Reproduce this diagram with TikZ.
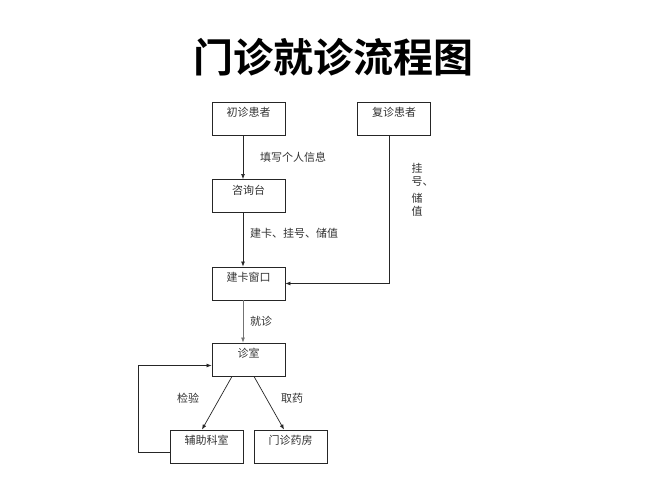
\documentclass[tikz,border=0pt]{standalone}
\usepackage{fontspec}
\setmainfont{Noto Sans CJK SC}
\newfontfamily\cjkbold{Noto Sans CJK SC Bold}
\usetikzlibrary{arrows.meta}

\begin{document}
\begin{tikzpicture}[
    x=1pt,y=-1pt,
    >={Latex[length=5pt,width=4pt]},
    every node/.style={font=\fontsize{11}{13}\selectfont,text=black!80},
    stage/.style={draw=black!85,line width=0.9pt,minimum width=73pt,
      text height=12pt,text depth=16pt,inner ysep=2.5pt,inner xsep=2pt},
    flow/.style={->,draw=black!85,line width=0.7pt},
    soft/.style={->,draw=black!55,line width=0.7pt},
    lab/.style={anchor=west,inner sep=1pt}
]
\useasboundingbox[fill=white] (0,0) rectangle (667,500);

% title
\node[font=\cjkbold\fontsize{40}{42}\selectfont,text=black] (title) at (333,57) {门诊就诊流程图};

% stages
\node[stage] (first)  at (248.5,118.5) {初诊患者};
\node[stage] (repeat) at (394,118.5)   {复诊患者};
\node[stage] (desk)   at (248.5,196)   {咨询台};
\node[stage] (card)   at (248.5,283.5) {建卡窗口};
\node[stage] (room)   at (248.5,359.5) {诊室};
\node[stage] (lab)    at (206.5,446.5) {辅助科室};
\node[stage] (pharm)  at (290.5,446.5) {门诊药房};

% main line
\draw[flow] ([xshift=-5.5pt]first.south) -- ([xshift=-5.5pt]desk.north);
\node[lab] (l1) at (259,157) {填写个人信息};
\draw[flow] ([xshift=-5.5pt]desk.south) -- ([xshift=-5.5pt]card.north);
\node[lab] (l2) at (249,233) {建卡、挂号、储值};
\draw[soft] ([xshift=-5.5pt]card.south) -- ([xshift=-5.5pt]room.north);
\node[lab] (l3) at (249,321) {就诊};

% returning patients
\draw[flow] ([xshift=-5pt]repeat.south) |- (card.east);
\node[align=center,font=\fontsize{11}{13}\selectfont,inner sep=1pt] (l4) at (417,190)
  {挂\\号\rlap{、}\\[4pt]储\\值};

% examination and pharmacy
\draw[flow] ([xshift=-16.5pt]room.south) -- ([xshift=-4.5pt]lab.north);
\draw[flow] ([xshift=5.5pt]room.south) -- ([xshift=-6.5pt]pharm.north);
\node (l5) at (188,398) {检验};
\node (l6) at (292,398) {取药};

% back to the consulting room
\draw[flow] ([yshift=-6pt]lab.west) -- ++(-31,0) |- ([yshift=-6pt]room.west);
\end{tikzpicture}
\end{document}
